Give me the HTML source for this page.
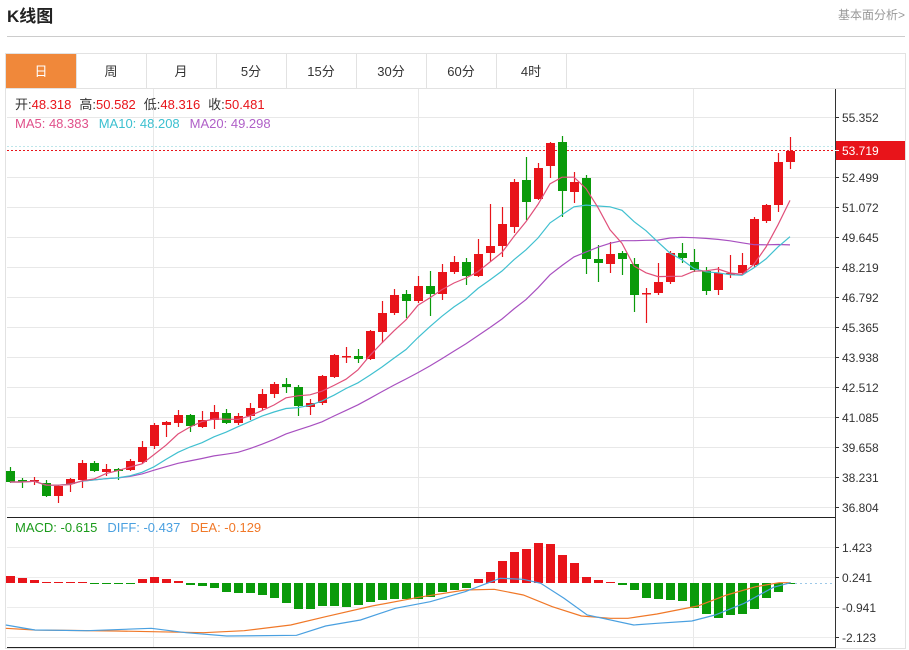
<!DOCTYPE html>
<html><head><meta charset="utf-8">
<style>
body{margin:0;background:#fff;font-family:"Liberation Sans","Noto Sans CJK SC",sans-serif;}
#w{position:relative;width:909px;height:650px;overflow:hidden;}
</style></head><body><div id="w">
<svg id="s" width="909" height="650" xmlns="http://www.w3.org/2000/svg" font-family="Liberation Sans, Noto Sans CJK SC, sans-serif">
<text x="7" y="22" font-size="17" font-weight="bold" fill="#222">K线图</text>
<text x="905" y="19" font-size="12" fill="#999" text-anchor="end">基本面分析&gt;</text>
<line x1="7" y1="36.5" x2="905" y2="36.5" stroke="#ccc"/>
<rect x="5.5" y="53.5" width="900" height="595" fill="none" stroke="#e2e2e2"/>
<line x1="5" y1="88.5" x2="905" y2="88.5" stroke="#e2e2e2"/>
<rect x="6" y="54" width="70" height="34" fill="#f0883a"/>
<g font-size="13" fill="#333" text-anchor="middle">
<text x="41" y="76" fill="#fff">日</text><text x="111" y="76">周</text><text x="181" y="76">月</text><text x="251" y="76">5分</text><text x="321" y="76">15分</text><text x="391" y="76">30分</text><text x="461" y="76">60分</text><text x="531" y="76">4时</text>
</g>
<g stroke="#e2e2e2"><line x1="146.5" y1="54" x2="146.5" y2="88"/><line x1="216.5" y1="54" x2="216.5" y2="88"/><line x1="286.5" y1="54" x2="286.5" y2="88"/><line x1="356.5" y1="54" x2="356.5" y2="88"/><line x1="426.5" y1="54" x2="426.5" y2="88"/><line x1="496.5" y1="54" x2="496.5" y2="88"/><line x1="566.5" y1="54" x2="566.5" y2="88"/><line x1="76.5" y1="54" x2="76.5" y2="88"/></g>
<g id="grid"></g>
<g id="plot"></g>
<g font-size="13">
<text x="15" y="109"><tspan fill="#333">开:</tspan><tspan fill="#e8141a">48.318</tspan><tspan fill="#333" dx="8">高:</tspan><tspan fill="#e8141a">50.582</tspan><tspan fill="#333" dx="8">低:</tspan><tspan fill="#e8141a">48.316</tspan><tspan fill="#333" dx="8">收:</tspan><tspan fill="#e8141a">50.481</tspan></text>
<text x="15" y="128"><tspan fill="#e0508a">MA5: 48.383</tspan><tspan fill="#3cc0d0" dx="10">MA10: 48.208</tspan><tspan fill="#b060c8" dx="10">MA20: 49.298</tspan></text>
<text x="15" y="532"><tspan fill="#1a9a1a">MACD: -0.615</tspan><tspan fill="#4aa0e0" dx="10">DIFF: -0.437</tspan><tspan fill="#f07828" dx="10">DEA: -0.129</tspan></text>
</g>
</svg>
<script>
var NS="http://www.w3.org/2000/svg";
function el(p,t,a){var e=document.createElementNS(NS,t);for(var k in a)e.setAttribute(k,a[k]);p.appendChild(e);return e;}
var G=document.getElementById('grid'),P=document.getElementById('plot');
var labels=["55.352","52.499","51.072","49.645","48.219","46.792","45.365","43.938","42.512","41.085","39.658","38.231","36.804"];
var ys=[117,177,207,237,267,297,327,357,387,417,447,477,507];
ys.forEach(function(y,i){el(G,'line',{x1:7,y1:y+.5,x2:835,y2:y+.5,stroke:'#e8e8e8'});el(G,'line',{x1:835,y1:y+.5,x2:839,y2:y+.5,stroke:'#333'});
var t=el(G,'text',{x:842,y:y+5,'font-size':12,fill:'#333'});t.textContent=labels[i];});
[153,418,693].forEach(function(x){el(G,'line',{x1:x+.5,y1:89,x2:x+.5,y2:647,stroke:'#e8e8e8'});});
var ml=[["1.423",547],["0.241",577],["-0.941",607],["-2.123",637]];
ml.forEach(function(m){el(G,'line',{x1:7,y1:m[1]+.5,x2:835,y2:m[1]+.5,stroke:'#ececec'});el(G,'line',{x1:835,y1:m[1]+.5,x2:839,y2:m[1]+.5,stroke:'#333'});var t=el(G,'text',{x:842,y:m[1]+5,'font-size':12,fill:'#333'});t.textContent=m[0];});
el(G,'line',{x1:835.5,y1:89,x2:835.5,y2:648,stroke:'#333'});
el(G,'line',{x1:7,y1:517.5,x2:835,y2:517.5,stroke:'#222'});
el(G,'line',{x1:7,y1:647.5,x2:835,y2:647.5,stroke:'#222'});
el(G,'line',{x1:7,y1:146.5,x2:835,y2:146.5,stroke:'#bfe6ea','stroke-dasharray':'2,2'});
el(G,'line',{x1:7,y1:150.5,x2:835,y2:150.5,stroke:'#e8141a','stroke-dasharray':'2,2'});
el(G,'line',{x1:790,y1:583.5,x2:835,y2:583.5,stroke:'#9cc8e8','stroke-dasharray':'2,3'});
// candles: [color(1 up), bodyTop, bodyBot, wickTop, wickBot]
var C=[[0,471,482,467,483],[0,480,482,478,488],[1,480,481,477,485],[0,483,496,480,497],[1,486,496,485,503],[1,479,484,478,492],[1,463,480,460,488],[0,463,471,461,472],[1,469,472,464,476],[0,469,471,468,480],
[1,461,470,459,471],[1,447,462,441,464],[1,425,446,423,449],[1,422,425,421,437],[1,415,423,410,427],[0,415,426,414,432],[1,420,427,411,428],[1,412,420,405,429],[0,413,423,409,424],[1,416,423,413,425],
[1,408,416,403,420],[1,394,408,389,410],[1,384,394,382,398],[0,384,387,378,393],[0,387,406,385,416],[1,403,407,399,415],[1,376,403,375,405],[1,355,377,354,378],[1,356,357,347,363],[0,356,359,349,363],
[1,331,359,330,360],[1,313,332,301,343],[1,295,313,289,315],[0,294,301,290,318],[1,286,301,276,303],[0,286,294,271,316],[1,272,294,264,300],[1,262,272,256,274],[0,262,276,258,285],[1,254,276,239,277],
[1,246,253,204,262],[1,224,246,207,257],[1,182,227,179,233],[0,180,202,157,220],[1,168,199,163,200],[1,143,166,142,178],[0,142,191,136,217],[1,182,192,172,203],[0,178,259,175,274],[0,259,263,245,282],
[1,254,264,242,273],[0,253,259,251,275],[0,264,295,258,312],[1,293,294,288,323],[1,282,293,263,295],[1,253,282,251,284],[0,253,258,243,263],[0,262,270,249,272],[0,271,291,267,295],[1,273,290,267,295],
[1,273,274,255,278],[1,265,273,253,274],[1,219,265,217,267],[1,205,221,204,223],[1,162,205,153,212],[1,151,162,137,169]];
var RED='#e8141a',GRN='#0a9a0a';
var closes=C.map(function(c){return c[0]?c[1]:c[2];});
function ma(n){var pts=[];for(var i=0;i<C.length;i++){var s=0,k=0;for(var j=Math.max(0,i-n+1);j<=i;j++){s+=closes[j];k++;}pts.push((10+i*12)+','+(s/k).toFixed(1));}return pts.join(' ');}
C.forEach(function(c,i){var x=10+i*12,col=c[0]?RED:GRN;
el(P,'line',{x1:x+.5,y1:c[3],x2:x+.5,y2:c[4],stroke:col,'stroke-width':1.2});
el(P,'rect',{x:x-4,y:c[1],width:9,height:Math.max(1.5,c[2]-c[1]),fill:col});});
el(P,'polyline',{points:ma(20),fill:'none',stroke:'#a850c0','stroke-width':1.2});
el(P,'polyline',{points:ma(10),fill:'none',stroke:'#40c0d0','stroke-width':1.2});
el(P,'polyline',{points:ma(5),fill:'none',stroke:'#e0507a','stroke-width':1.2});
var H=[576,578,580,582,582,582,582,584,584,584,584,579,577,579,581,585,586,588,592,593,593,595,598,603,609,609,606,606,607,605,602,600,599,599,599,597,592,590,588,579,572,561,552,549,543,544,555,563,577,580,582,585,590,598,599,600,601,608,614,618,615,614,609,598,592,584];
var Z=583;
H.forEach(function(h,i){var x=10+i*12;var up=h<Z;var t=Math.min(h,Z),b=Math.max(h,Z);if(b-t<1){t=Z-0.5;b=Z+0.5;}
el(P,'rect',{x:x-4,y:t,width:9,height:b-t,fill:up?RED:GRN});});
function cv(a){return a.map(function(p){return (p[0]/1.72).toFixed(1)+','+(510+p[1]/3).toFixed(1);}).join(' ');}
var B=[[10,345],[60,360],[150,362],[260,355],[320,368],[390,378],[510,376],[560,348],[620,330],[680,295],[740,275],[800,245],[860,205],[900,208],[930,220],[970,265],[1010,315],[1090,345],[1130,340],[1190,333],[1230,315],[1280,280],[1330,232],[1360,218]];
var O=[[10,355],[60,360],[200,363],[350,368],[420,362],[500,345],[560,320],[640,288],[720,262],[800,240],[850,238],[900,255],[950,290],[1000,318],[1050,325],[1080,325],[1130,312],[1200,288],[1250,255],[1300,230],[1340,218],[1360,218]];
el(P,'polyline',{points:cv(O),fill:'none',stroke:'#f07828','stroke-width':1.2});
el(P,'polyline',{points:cv(B),fill:'none',stroke:'#4aa0e0','stroke-width':1.2});
el(P,'rect',{x:836,y:141,width:69,height:19,fill:RED});
var t=el(P,'text',{x:842,y:155,'font-size':12,fill:'#fff'});t.textContent='53.719';
el(P,'line',{x1:835,y1:150.5,x2:839,y2:150.5,stroke:'#fff'});
</script>
</div></body></html>
